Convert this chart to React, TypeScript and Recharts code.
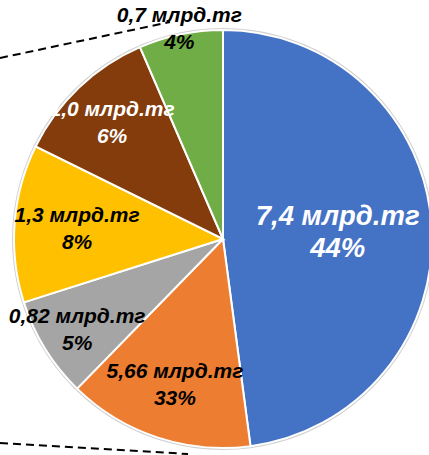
import { PieChart, Pie, Cell } from 'recharts'

// slice sizes (share of the circle, %)
const shares = [47.9, 14.4, 7.8, 12.2, 11.2, 6.5]
const amounts = ['7,4 млрд.тг', '5,66 млрд.тг', '0,82 млрд.тг', '1,3 млрд.тг', '1,0 млрд.тг', '0,7 млрд.тг']
const percents = ['44%', '33%', '5%', '8%', '6%', '4%']

const COLORS = ['#4472C4', '#ED7D31', '#A5A5A5', '#FFC000', '#843C0C', '#70AD47']
const TEXT_COLORS = ['#fff', '#000', '#000', '#000', '#fff', '#000']
const LABEL_R = [0.55, 0.73, 0.82, 0.7, 0.77, 1.03]

const RAD = Math.PI / 180

const data = shares.map((v, i) => ({ name: amounts[i], value: v }))

function renderLabel(props: any) {
  const { cx, cy, midAngle, outerRadius, index } = props
  const r = outerRadius * LABEL_R[index]
  const x = cx + r * Math.cos(-midAngle * RAD)
  const y = cy + r * Math.sin(-midAngle * RAD)
  const big = index === 0
  const fs = big ? 27.5 : 21
  const gap = big ? 32 : 27
  return (
    <text
      x={x}
      y={y}
      textAnchor="middle"
      fill={TEXT_COLORS[index]}
      fontFamily="'Liberation Sans', Arial, sans-serif"
      fontWeight="bold"
      fontStyle="italic"
      fontSize={fs}
    >
      <tspan x={x} y={y - gap / 2} dominantBaseline="central">
        {amounts[index]}
      </tspan>
      <tspan x={x} y={y + gap / 2} dominantBaseline="central">
        {percents[index]}
      </tspan>
    </text>
  )
}

export default function App() {
  return (
    <div style={{ position: 'fixed', left: 0, top: 0, width: 429, height: 455, background: '#fff', overflow: 'hidden' }}>
      <svg width={429} height={455} style={{ position: 'absolute', left: 0, top: 0 }}>
        <line x1={0} y1={58} x2={170} y2={22} stroke="#000" strokeWidth={2} strokeDasharray="8 5" />
        <line x1={0} y1={443} x2={188} y2={454} stroke="#000" strokeWidth={2} strokeDasharray="8 5" />
      </svg>
      <div style={{ position: 'absolute', left: 0, top: 0 }}>
        <PieChart width={429} height={455} margin={{ top: 0, right: 0, bottom: 0, left: 0 }}>
          <Pie
            data={[{ value: 1 }]}
            dataKey="value"
            cx={223}
            cy={239}
            outerRadius={211}
            fill="#d0d0d0"
            stroke="none"
            isAnimationActive={false}
          />
          <Pie
            data={data}
            dataKey="value"
            cx={223}
            cy={239}
            outerRadius={209}
            startAngle={90}
            endAngle={-270}
            stroke="#fff"
            strokeWidth={2}
            label={renderLabel}
            labelLine={false}
            isAnimationActive={false}
          >
            {data.map((_, i) => (
              <Cell key={`cell-${i}`} fill={COLORS[i]} />
            ))}
          </Pie>
        </PieChart>
      </div>
    </div>
  )
}
